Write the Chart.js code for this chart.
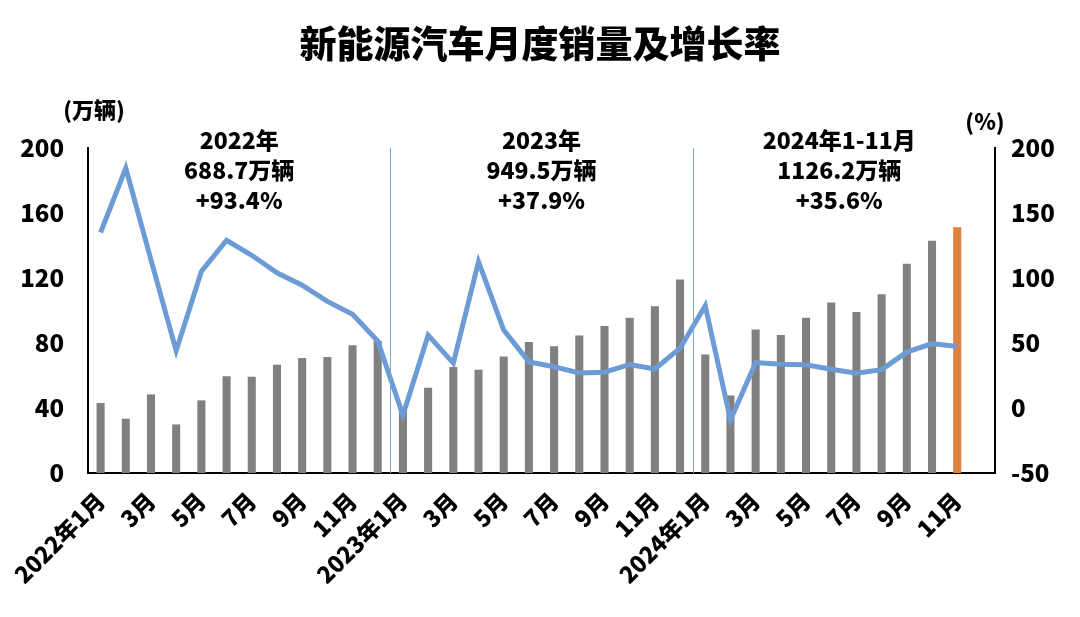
<!DOCTYPE html>
<html>
<head>
<meta charset="utf-8">
<script src="https://cdn.jsdelivr.net/npm/chart.js@4.4.1/dist/chart.umd.min.js"></script>
<style>
  html, body { margin: 0; padding: 0; background: #fff; }
  #wrap { width: 1080px; height: 617px; position: relative; }
</style>
</head>
<body>
<div id="wrap"><canvas id="chart" width="1080" height="617"></canvas></div>
<script>
const FONT = '"Noto Sans CJK SC", "Noto Sans", sans-serif';

// months 2022-01 .. 2024-12 (last slot empty)
const months = [
  '2022年1月', '2月', '3月', '4月', '5月', '6月', '7月', '8月', '9月', '10月', '11月', '12月',
  '2023年1月', '2月', '3月', '4月', '5月', '6月', '7月', '8月', '9月', '10月', '11月', '12月',
  '2024年1月', '2月', '3月', '4月', '5月', '6月', '7月', '8月', '9月', '10月', '11月', '12月'
];

// 月度销量（万辆）
const sales = [
  43.1, 33.4, 48.4, 29.9, 44.7, 59.6, 59.3, 66.6, 70.8, 71.4, 78.6, 81.4,
  40.8, 52.5, 65.3, 63.6, 71.7, 80.6, 78.0, 84.6, 90.4, 95.6, 102.6, 119.1,
  72.9, 47.7, 88.3, 85.0, 95.5, 104.9, 99.1, 110.0, 128.7, 143.0, 151.2, null
];

// 同比增长率（%）
const growth = [
  135, 184.5, 114, 44, 105, 129, 117.5, 104, 94.5, 82, 72, 51.5,
  -5.5, 56, 34.5, 112.5, 60, 35.5, 31.7, 27, 27.5, 33.5, 30, 46,
  78.6, -9.2, 35, 33.6, 33.2, 29.8, 26.8, 29.5, 43, 49.6, 47.3, null
];

// 年度汇总
const yearNotes = [
  ['2022年', '688.7万辆', '+93.4%'],
  ['2023年', '949.5万辆', '+37.9%'],
  ['2024年1-11月', '1126.2万辆', '+35.6%']
];
const yearSpans = [[0, 11], [12, 23], [24, 34]];

const barColors = sales.map((v, i) => i === 34 ? '#E0803E' : '#808080');

const extras = {
  id: 'extras',
  afterDatasetsDraw(chart) {
    const { ctx, chartArea, scales } = chart;
    const x = scales.x;
    ctx.save();
    // year separators
    ctx.strokeStyle = '#7FA8DA';
    ctx.lineWidth = 1;
    [11.5, 23.5].forEach(p => {
      const px = Math.round((x.getPixelForValue(Math.floor(p)) + x.getPixelForValue(Math.ceil(p))) / 2) + 0.5;
      ctx.beginPath();
      ctx.moveTo(px, chartArea.top);
      ctx.lineTo(px, chartArea.bottom);
      ctx.stroke();
    });
    // year notes
    ctx.fillStyle = '#000';
    ctx.font = '900 23px ' + FONT;
    ctx.textAlign = 'center';
    ctx.textBaseline = 'middle';
    yearNotes.forEach((lines, k) => {
      const [a, b] = yearSpans[k];
      let cx = (x.getPixelForValue(a) + x.getPixelForValue(b)) / 2;
      if (k === 2) cx += 8;
      lines.forEach((t, j) => ctx.fillText(t, cx, chartArea.top - 8 + j * 30));
    });
    ctx.restore();
  },
  afterDraw(chart) {
    const { ctx } = chart;
    ctx.save();
    ctx.fillStyle = '#000';
    ctx.textAlign = 'center';
    ctx.textBaseline = 'middle';
    ctx.font = '900 37px ' + FONT;
    ctx.fillText('新能源汽车月度销量及增长率', 540, 44);
    ctx.font = '900 22px ' + FONT;
    ctx.fillText('(万辆)', 94, 110);
    ctx.fillText('(%)', 985, 122);
    ctx.restore();
  }
};

new Chart(document.getElementById('chart').getContext('2d'), {
  data: {
    labels: months,
    datasets: [
      {
        type: 'line',
        label: '增长率',
        data: growth,
        yAxisID: 'y2',
        borderColor: '#6C9BD5',
        borderWidth: 5,
        pointRadius: 0,
        tension: 0,
        order: 0
      },
      {
        type: 'bar',
        label: '销量',
        data: sales,
        yAxisID: 'y',
        backgroundColor: barColors,
        barPercentage: 0.32,
        categoryPercentage: 1,
        order: 1
      }
    ]
  },
  options: {
    responsive: false,
    animation: false,
    layout: { padding: { top: 148, left: 0, right: 0, bottom: 0 } },
    plugins: {
      legend: { display: false },
      tooltip: { enabled: false }
    },
    scales: {
      x: {
        grid: { display: false, drawTicks: false },
        border: { display: true, color: '#000', width: 2 },
        ticks: {
          autoSkip: false,
          maxRotation: 45,
          minRotation: 45,
          padding: 14,
          color: '#000',
          font: { family: FONT, size: 23, weight: '900' },
          callback: (v, i) => (i % 2 === 0 ? months[i] : '')
        },
        afterFit: s => { s.height = 144; }
      },
      y: {
        position: 'left',
        min: 0,
        max: 200,
        grid: { display: false, drawTicks: false },
        border: { display: true, color: '#000', width: 2 },
        ticks: {
          stepSize: 40,
          padding: 24,
          color: '#000',
          font: { family: FONT, size: 24, weight: '900' }
        },
        afterFit: s => { s.width = 88; }
      },
      y2: {
        position: 'right',
        min: -50,
        max: 200,
        grid: { display: false, drawTicks: false },
        border: { display: true, color: '#000', width: 2 },
        ticks: {
          stepSize: 50,
          padding: 16,
          color: '#000',
          font: { family: FONT, size: 24, weight: '900' }
        },
        afterFit: s => { s.width = 85; }
      }
    }
  },
  plugins: [extras]
});
</script>
</body>
</html>
